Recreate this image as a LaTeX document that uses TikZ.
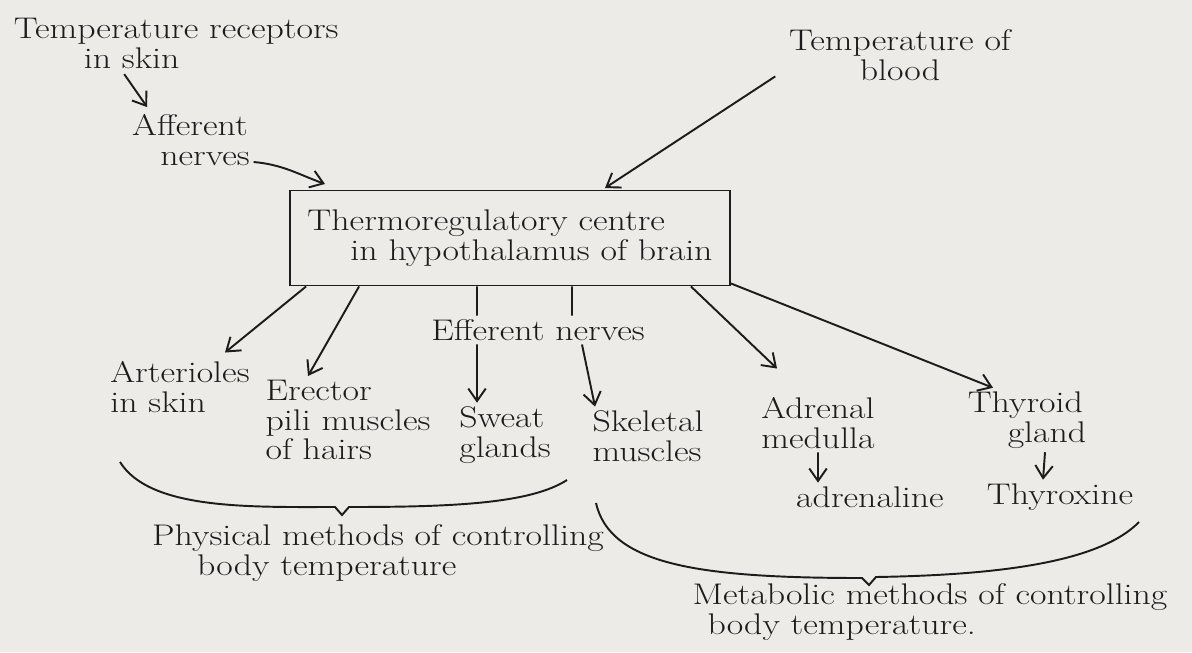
\documentclass[tikz,border=0pt]{standalone}
\usepackage{fontspec}
\setmainfont{Latin Modern Roman}[FakeStretch=1.2]
\usepackage{tikz}
\usetikzlibrary{arrows.meta}
\definecolor{paper}{RGB}{236,235,232}
\definecolor{ink}{RGB}{28,28,28}
\providecommand{\labelfontsize}{\fontsize{17}{17}\selectfont}
\tikzset{
  lbl/.style={font=\labelfontsize,text=ink,inner sep=2pt,align=center},
  arr/.style={draw=ink,line width=1.1pt,-{Straight Barb[length=2.5mm,width=3.5mm]}},
  stem/.style={draw=ink,line width=1.1pt},
}

\begin{document}
\begin{tikzpicture}[x=0.02cm,y=-0.02cm]
    \fill[paper] (0,0) rectangle (1192,652);
    \useasboundingbox (0,0) rectangle (1192,652);
    % what the centre is told
    \node[lbl,align=left,anchor=north west] (rec) at (10,14) {Temperature receptors\\\hspace*{1.4cm}in skin};
    \node[lbl] (aff) at (190,140) {Afferent\\\hspace*{0.6cm}nerves};
    \node[lbl] (blood) at (900,55) {Temperature of\\blood};
    \node[lbl,align=left,draw=ink,line width=1.1pt,minimum width=8.8cm,minimum height=1.9cm] (box) at (510,238)
        {Thermoregulatory centre\\\hspace*{0.86cm}in hypothalamus of brain};
    \coordinate (affin) at (325,184);
    \coordinate (bloodin) at (605,188);
    \draw[arr] (rec.south) ++(-52,2) -- ++(23,33);
    \draw[arr] (aff.east) ++(0,22) to[out=-5,in=160] (affin);
    \draw[arr] (blood.south west) ++(-10,-8) -- (bloodin);
    % what the centre works on
    \node[lbl] (eff) at (538,330) {Efferent nerves};
    \node[lbl,align=left] (art) at (180,387) {Arterioles\\in skin};
    \node[lbl,align=left] (ere) at (348,420) {Erector\\pili muscles\\of hairs};
    \node[lbl,align=left] (swe) at (505,435) {Sweat\\glands};
    \node[lbl,align=left] (ske) at (648,436) {Skeletal\\muscles};
    \node[lbl] (adr) at (818,423) {Adrenal\\medulla};
    \node[lbl] (adl) at (870,497) {adrenaline};
    \node[lbl,align=left] (thy) at (1027,420) {Thyroid\\\hspace*{0.8cm}gland};
    \node[lbl] (thx) at (1060,497) {Thyroxine};
    \draw[arr] ([xshift=0.34cm]box.south west) -- ([xshift=0.9cm,yshift=0.1cm]art.north);
    \draw[arr] ([xshift=1.4cm]box.south west) -- ([xshift=-0.8cm]ere.north);
    \draw[stem] ([xshift=-0.66cm]box.south) -- ([xshift=-1.22cm]eff.north);
    \draw[stem] ([xshift=1.24cm]box.south) -- ([xshift=0.68cm]eff.north);
    \draw[arr] ([xshift=-1.22cm]eff.south) -- ([xshift=-0.56cm]swe.north);
    \draw[arr] ([xshift=0.88cm]eff.south) -- ([xshift=-1.06cm]ske.north);
    \draw[arr] ([xshift=-0.8cm]box.south east) -- ([xshift=-0.82cm,yshift=0.5cm]adr.north);
    \draw[arr] ([yshift=0.06cm]box.south east) -- ([xshift=-0.68cm]thy.north);
    \draw[arr] (adr.south) -- ([xshift=-1.04cm]adl.north);
    \draw[arr] ([xshift=0.36cm]thy.south) -- ([xshift=-0.34cm]thx.north);
    % the two groups
    \draw[stem] (120,462) .. controls (150,510) and (250,507) .. (335,507) -- (342,515) -- (349,507)
        .. controls (450,507) and (530,504) .. (567,480);
    \draw[stem] (596,503) .. controls (610,565) and (700,578) .. (862,578) -- (869,585) -- (876,577)
        .. controls (1000,575) and (1100,562) .. (1139,522);
    \node[lbl,align=left] (phy) at (378,553) {Physical methods of controlling\\\hspace*{0.9cm}body temperature};
    \node[lbl,align=left] (met) at (930,612) {Metabolic methods of controlling\\\hspace*{0.3cm}body temperature.};
\end{tikzpicture}
\end{document}
